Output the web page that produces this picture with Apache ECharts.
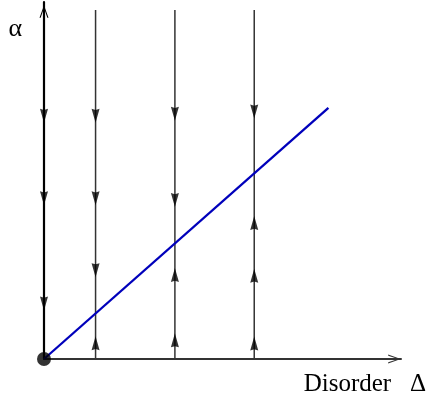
<!DOCTYPE html>
<html>
<head>
<meta charset="utf-8">
<script src="https://cdn.jsdelivr.net/npm/echarts@6/dist/echarts.min.js"></script>
<style>
html,body{margin:0;padding:0;background:#fff;}
#chart{width:429px;height:403px;}
</style>
</head>
<body>
<div id="chart"></div>
<script>
// Flow lines (x positions, in units of disorder) and their top ends
const flowX = [1.3, 3.3, 5.3];
const flowTop = [8.8, 8.8, 8.8];
// Arrowheads pointing down / up: [disorder, alpha]
const downArrows = [
  [0, 6.13], [0, 4.05], [0, 1.40],
  [1.3, 6.13], [1.3, 4.05], [1.3, 2.24],
  [3.3, 6.18], [3.3, 4.01],
  [5.3, 6.24]
];
const upArrows = [
  [1.3, 0.40],
  [3.3, 2.12], [3.3, 0.47],
  [5.3, 3.43], [5.3, 2.10], [5.3, 0.39]
];
// Separatrix (blue line)
const separatrix = [[0, 0], [7.17, 6.33]];
// Fixed point at the origin
const fixedPoint = [[0, 0]];
const axisMax = { x: 9, y: 9 };
const xName = 'Disorder   Δ';
const yName = 'α';

const arrowPath = 'path://M5,0 L10,14 L5,12.8 L0,14 Z';
const chevronPath = 'path://M5,0 L10,14 L8.7,14 L5,3 L1.3,14 L0,14 Z';

const series = [];
flowX.forEach(function (x, i) {
  series.push({
    type: 'line',
    data: [[x, 0], [x, flowTop[i]]],
    symbol: 'none',
    lineStyle: { color: '#333', width: 1.5 },
    z: 2,
    silent: true
  });
});
series.push({
  type: 'line',
  data: separatrix,
  symbol: 'none',
  lineStyle: { color: '#0000bb', width: 2.3 },
  z: 3,
  silent: true
});
series.push({
  type: 'scatter',
  data: downArrows,
  symbol: arrowPath,
  symbolSize: [8, 14],
  symbolRotate: 180,
  itemStyle: { color: '#000' },
  z: 4,
  silent: true
});
series.push({
  type: 'scatter',
  data: upArrows,
  symbol: arrowPath,
  symbolSize: [8, 14],
  itemStyle: { color: '#000' },
  z: 4,
  silent: true
});
series.push({
  type: 'scatter',
  data: fixedPoint,
  symbol: 'circle',
  symbolSize: 14,
  itemStyle: { color: '#000' },
  z: 5,
  silent: true
});

const chart = echarts.init(document.getElementById('chart'), null, { renderer: 'canvas' });
chart.setOption({
  animation: false,
  backgroundColor: '#fff',
  grid: { left: 44, right: 26, top: 2, bottom: 44, containLabel: false },
  xAxis: {
    type: 'value', min: 0, max: axisMax.x,
    name: xName,
    nameLocation: 'end',
    nameGap: 25,
    nameTextStyle: {
      fontFamily: 'Liberation Serif', fontSize: 25, color: '#000',
      align: 'right', verticalAlign: 'top', padding: [13, 0, 0, 0]
    },
    axisLine: {
      show: true, onZero: false,
      symbol: ['none', chevronPath], symbolSize: [9, 13], symbolOffset: [0, -6.5],
      lineStyle: { color: '#333', width: 2 }
    },
    axisTick: { show: false }, axisLabel: { show: false }, splitLine: { show: false }
  },
  yAxis: {
    type: 'value', min: 0, max: axisMax.y,
    name: yName,
    nameLocation: 'end',
    nameGap: -14,
    nameTextStyle: {
      fontFamily: 'Liberation Serif', fontSize: 26, color: '#000',
      align: 'right', verticalAlign: 'top', padding: [0, 22, 0, 0]
    },
    axisLine: {
      show: true, onZero: false,
      symbol: ['none', chevronPath], symbolSize: [9, 19], symbolOffset: [0, -9.5],
      lineStyle: { color: '#000', width: 2.2 }
    },
    axisTick: { show: false }, axisLabel: { show: false }, splitLine: { show: false }
  },
  series: series
});
</script>
</body>
</html>
